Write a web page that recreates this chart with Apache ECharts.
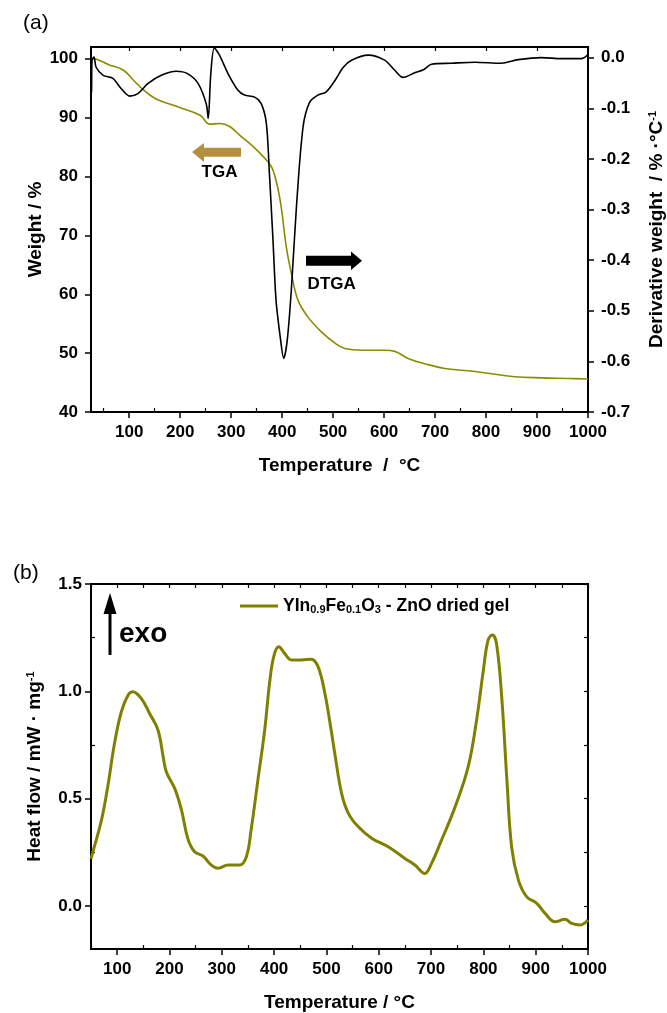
<!DOCTYPE html>
<html>
<head>
<meta charset="utf-8">
<script src="https://cdn.jsdelivr.net/npm/echarts@6/dist/echarts.min.js"></script>
<style>
  html, body { margin: 0; background: #fff; }
  #main { width: 667px; height: 1013px; }
</style>
</head>
<body>
<div id="main"></div>
<script>
// (a) TGA: weight (%) vs temperature
const tgaTemp = [27, 36, 60, 88, 108, 128, 150, 173, 200, 239, 258, 278, 297, 317, 343, 369, 382, 396, 408, 418, 431, 450, 477, 505, 523, 556, 601, 621, 647, 680, 719, 765, 811, 856, 909, 961, 1000]
const tgaWeight = [100.0, 99.9, 99.0, 98.1, 96.4, 94.7, 93.3, 92.5, 91.7, 90.4, 88.9, 89.0, 88.5, 87.0, 85.1, 82.8, 81.1, 76.0, 68.1, 63.6, 59.0, 56.2, 53.6, 51.6, 50.8, 50.5, 50.5, 50.3, 49.1, 48.2, 47.4, 47.0, 46.5, 46.0, 45.8, 45.7, 45.6]

// (a) DTGA: derivative weight (%/°C) vs temperature
const dtgaTemp = [25, 26, 27, 31, 35, 49, 68, 84, 101, 117, 137, 163, 192, 215, 235, 251, 255, 260, 267, 277, 294, 313, 326, 346, 359, 369, 375, 382, 388, 397, 403, 410, 418, 428, 441, 454, 470, 486, 503, 520, 536, 569, 601, 621, 637, 660, 677, 693, 732, 778, 830, 863, 909, 948, 987, 1000]
const dtgaValue = [-0.07, -0.068, -0.005, 0.001, -0.019, -0.035, -0.041, -0.061, -0.076, -0.071, -0.051, -0.035, -0.027, -0.032, -0.051, -0.091, -0.12, -0.032, 0.019, 0.005, -0.032, -0.064, -0.074, -0.078, -0.091, -0.13, -0.229, -0.36, -0.479, -0.558, -0.594, -0.558, -0.459, -0.295, -0.137, -0.088, -0.074, -0.068, -0.046, -0.019, -0.005, 0.005, -0.005, -0.025, -0.039, -0.03, -0.024, -0.013, -0.011, -0.009, -0.011, -0.004, 0.0, -0.002, -0.002, 0.006]

// (b) DSC: heat flow (mW/mg) vs temperature
const dscTemp = [50, 52, 70, 82, 95, 108, 121, 130, 146, 162, 178, 188, 194, 210, 223, 235, 248, 264, 280, 293, 312, 334, 347, 356, 369, 382, 392, 400, 409, 420, 433, 452, 471, 484, 497, 509, 516, 529, 542, 561, 587, 618, 650, 669, 688, 701, 720, 746, 771, 787, 800, 809, 817, 825, 835, 845, 854, 867, 883, 902, 918, 937, 956, 969, 985, 1000]
const dscHeat = [0.22, 0.238, 0.40, 0.556, 0.758, 0.905, 0.983, 0.998, 0.967, 0.897, 0.82, 0.695, 0.625, 0.548, 0.447, 0.315, 0.253, 0.233, 0.191, 0.176, 0.191, 0.191, 0.23, 0.354, 0.587, 0.82, 1.053, 1.169, 1.208, 1.177, 1.146, 1.146, 1.15, 1.115, 0.991, 0.82, 0.711, 0.525, 0.432, 0.369, 0.315, 0.276, 0.222, 0.191, 0.152, 0.199, 0.307, 0.462, 0.649, 0.866, 1.099, 1.239, 1.262, 1.224, 0.975, 0.587, 0.276, 0.121, 0.043, 0.013, -0.034, -0.073, -0.062, -0.081, -0.088, -0.065]

// tick labels
const tempTicks = [100, 200, 300, 400, 500, 600, 700, 800, 900, 1000]
const tempMinor = [50, 150, 250, 350, 450, 550, 650, 750, 850, 950]
const weightTicks = [40, 50, 60, 70, 80, 90, 100]
const derivTicks = [-0.7, -0.6, -0.5, -0.4, -0.3, -0.2, -0.1, 0.0]
const heatTicks = [0.0, 0.5, 1.0, 1.5]
const heatMinor = [0.25, 0.75, 1.25]
const heatAll = [0.0, 0.25, 0.5, 0.75, 1.0, 1.25, 1.5]

const FONT = 'Arial, "Liberation Sans", sans-serif'
const OLIVE = '#808000'

const pairs = (xs, ys) => xs.map((x, i) => [x, ys[i]])

const labelStyle = {color: '#000', fontFamily: FONT, fontWeight: 'bold', fontSize: 17}
const nameStyle = {color: '#000', fontFamily: FONT, fontWeight: 'bold', fontSize: 19}
const lineStyle = {color: '#000', width: 2}

// axis that only draws extra tick marks
const tickOnly = (o) => Object.assign({
  type: 'value',
  axisLine: {show: false, onZero: false},
  axisLabel: {show: false},
  splitLine: {show: false},
}, o)

const chart = echarts.init(document.getElementById('main'))

const option = {
  animation: false,
  backgroundColor: '#fff',
  title: [
    {text: '(a)', left: 18, top: 8, textStyle: {fontFamily: FONT, fontWeight: 'normal', fontSize: 21, color: '#000'}},
    {text: '(b)', left: 8, top: 558, textStyle: {fontFamily: FONT, fontWeight: 'normal', fontSize: 21, color: '#000'}},
  ],
  grid: [
    {left: 91, top: 47, width: 497, height: 365, show: true, borderColor: '#000', borderWidth: 2, outerBoundsMode: 'none', containLabel: false},
    {left: 91, top: 584, width: 497, height: 365, show: true, borderColor: '#000', borderWidth: 2, outerBoundsMode: 'none', containLabel: false},
  ],
  legend: {
    left: 240,
    top: 597,
    padding: 0,
    icon: 'rect',
    itemWidth: 38,
    itemHeight: 3,
    data: ['dsc'],
    formatter: () => 'YIn{s|0.9}Fe{s|0.1}O{s|3} - ZnO dried gel',
    textStyle: {
      color: '#000', fontFamily: FONT, fontWeight: 'bold', fontSize: 17.5,
      rich: {s: {fontFamily: FONT, fontWeight: 'bold', fontSize: 11, verticalAlign: 'bottom', padding: [8, 0, 0, 0]}},
    },
  },
  xAxis: [
    {
      gridIndex: 0, type: 'value', min: 25, max: 1000, position: 'bottom',
      name: 'Temperature  /  °C', nameLocation: 'middle', nameGap: 44, nameTextStyle: nameStyle, nameMoveOverlap: false,
      axisLine: {onZero: false, lineStyle},
      axisTick: {customValues: tempTicks, length: 6, lineStyle: {width: 1.5, color: '#000'}},
      axisLabel: Object.assign({customValues: tempTicks, margin: 12, formatter: (v) => String(v)}, labelStyle),
      splitLine: {show: false},
    },
    tickOnly({gridIndex: 0, min: 25, max: 1000, position: 'bottom',
      axisTick: {customValues: tempMinor, inside: true, length: 4, lineStyle: {width: 1.2, color: '#000'}}}),
    tickOnly({gridIndex: 0, min: 25, max: 1000, position: 'top',
      axisTick: {customValues: tempTicks, inside: true, length: 4, lineStyle: {width: 1.2, color: '#000'}}}),
    {
      gridIndex: 1, type: 'value', min: 50, max: 1000, position: 'bottom',
      name: 'Temperature / °C', nameLocation: 'middle', nameGap: 44, nameTextStyle: nameStyle, nameMoveOverlap: false,
      axisLine: {onZero: false, lineStyle},
      axisTick: {customValues: tempTicks, length: 6, lineStyle: {width: 1.5, color: '#000'}},
      axisLabel: Object.assign({customValues: tempTicks, margin: 12, formatter: (v) => String(v)}, labelStyle),
      splitLine: {show: false},
    },
    tickOnly({gridIndex: 1, min: 50, max: 1000, position: 'bottom',
      axisTick: {customValues: tempMinor, inside: true, length: 4, lineStyle: {width: 1.2, color: '#000'}}}),
    tickOnly({gridIndex: 1, min: 50, max: 1000, position: 'top',
      axisTick: {customValues: tempTicks.concat(tempMinor), inside: true, length: 4, lineStyle: {width: 1.2, color: '#000'}}}),
  ],
  yAxis: [
    {
      gridIndex: 0, type: 'value', min: 40, max: 102, position: 'left',
      name: 'Weight / %', nameLocation: 'middle', nameGap: 46, nameRotate: 90, nameTextStyle: nameStyle, nameMoveOverlap: false,
      axisLine: {show: true, onZero: false, lineStyle},
      axisTick: {show: true, customValues: weightTicks, length: 6, lineStyle: {width: 1.5, color: '#000'}},
      axisLabel: Object.assign({customValues: weightTicks, margin: 13}, labelStyle),
      splitLine: {show: false},
    },
    {
      gridIndex: 0, type: 'value', min: -0.7, max: 0.021, position: 'right',
      name: 'Derivative weight  / % ·°C{sup|-1}', nameLocation: 'middle', nameGap: 59, nameRotate: 90, nameMoveOverlap: false,
      nameTextStyle: Object.assign({rich: {sup: {fontFamily: FONT, fontWeight: 'bold', fontSize: 11, verticalAlign: 'top'}}}, nameStyle),
      axisLine: {show: true, onZero: false, lineStyle},
      axisTick: {show: true, customValues: derivTicks, length: 6, lineStyle: {width: 1.5, color: '#000'}},
      axisLabel: Object.assign({customValues: derivTicks, margin: 13, formatter: (v) => v.toFixed(1)}, labelStyle),
      splitLine: {show: false},
    },
    {
      gridIndex: 1, type: 'value', min: -0.2, max: 1.5, position: 'left',
      name: 'Heat flow / mW · mg{sup|-1}', nameLocation: 'middle', nameGap: 47, nameRotate: 90, nameMoveOverlap: false,
      nameTextStyle: Object.assign({rich: {sup: {fontFamily: FONT, fontWeight: 'bold', fontSize: 11, verticalAlign: 'top'}}}, nameStyle),
      axisLine: {show: true, onZero: false, lineStyle},
      axisTick: {show: true, customValues: heatTicks, length: 6, lineStyle: {width: 1.5, color: '#000'}},
      axisLabel: Object.assign({customValues: heatTicks, margin: 9, formatter: (v) => v.toFixed(1)}, labelStyle),
      splitLine: {show: false},
    },
    tickOnly({gridIndex: 1, min: -0.2, max: 1.5, position: 'left',
      axisTick: {show: true, customValues: heatMinor, inside: true, length: 4, lineStyle: {width: 1.2, color: '#000'}}}),
    tickOnly({gridIndex: 1, min: -0.2, max: 1.5, position: 'right',
      axisTick: {show: true, customValues: heatAll, inside: true, length: 4, lineStyle: {width: 1.2, color: '#000'}}}),
  ],
  series: [
    {
      name: 'TGA', type: 'line', xAxisIndex: 0, yAxisIndex: 0,
      data: pairs(tgaTemp, tgaWeight), symbol: 'none', smooth: 0.4,
      lineStyle: {color: '#8b8b00', width: 1.6}, itemStyle: {color: '#8b8b00'},
    },
    {
      name: 'DTGA', type: 'line', xAxisIndex: 0, yAxisIndex: 1,
      data: pairs(dtgaTemp, dtgaValue), symbol: 'none', smooth: 0.3,
      lineStyle: {color: '#000', width: 1.6}, itemStyle: {color: '#000'},
    },
    {
      name: 'dsc', type: 'line', xAxisIndex: 3, yAxisIndex: 2,
      data: pairs(dscTemp, dscHeat), symbol: 'none', smooth: 0.4,
      lineStyle: {color: OLIVE, width: 3}, itemStyle: {color: OLIVE},
    },
  ],
  graphic: [
    // TGA arrow (points left)
    {type: 'polygon', shape: {points: [[192, 152], [204, 143], [204, 147.7], [241, 147.7], [241, 156.7], [204, 156.7], [204, 162]]},
      style: {fill: '#b58f3d'}},
    {type: 'text', x: 219.5, y: 172, style: {text: 'TGA', fill: '#000', font: 'bold 17px ' + FONT, align: 'center', verticalAlign: 'middle'}},
    // DTGA arrow (points right)
    {type: 'polygon', shape: {points: [[306, 255.7], [351, 255.7], [351, 251.5], [362, 260.8], [351, 270], [351, 265.7], [306, 265.7]]},
      style: {fill: '#000'}},
    {type: 'text', x: 331.7, y: 284, style: {text: 'DTGA', fill: '#000', font: 'bold 17px ' + FONT, align: 'center', verticalAlign: 'middle'}},
    // exo arrow (points up)
    {type: 'rect', shape: {x: 108.5, y: 610, width: 3, height: 45}, style: {fill: '#000'}},
    {type: 'polygon', shape: {points: [[110, 593], [116.5, 614], [103.5, 614]]}, style: {fill: '#000'}},
    {type: 'text', x: 119, y: 634, style: {text: 'exo', fill: '#000', font: 'bold 28px ' + FONT, align: 'left', verticalAlign: 'middle'}},
  ],
}

chart.setOption(option)
</script>
</body>
</html>
